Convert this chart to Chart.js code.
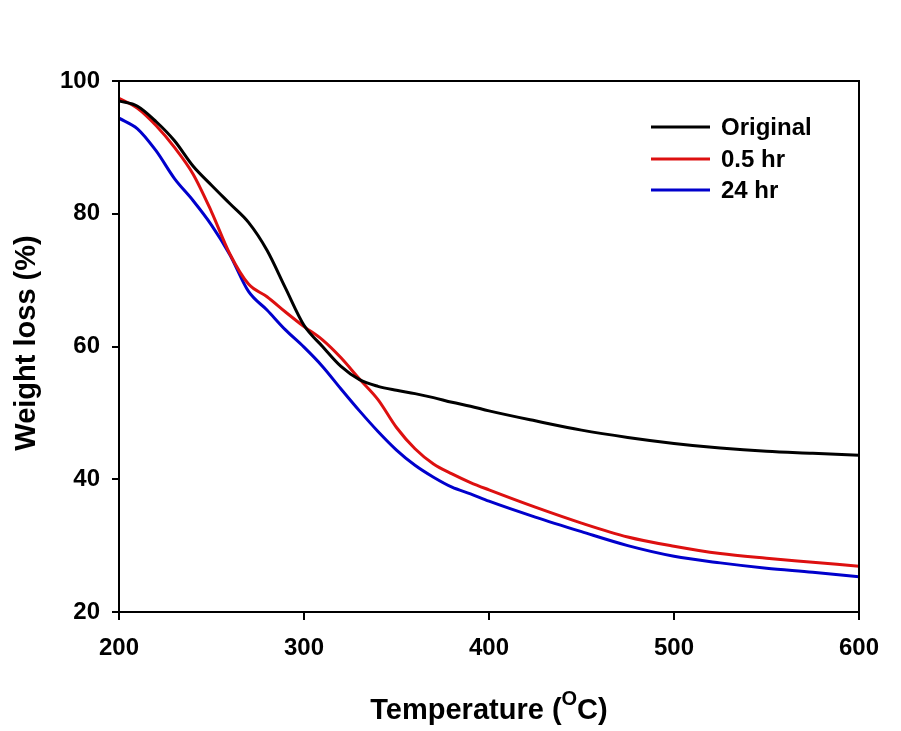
<!DOCTYPE html>
<html>
<head>
<meta charset="utf-8">
<script src="https://cdn.jsdelivr.net/npm/chart.js@4.4.1/dist/chart.umd.min.js"></script>
<style>
  html, body { margin: 0; padding: 0; background: #fff; }
  #wrap { width: 901px; height: 731px; position: relative; }
</style>
</head>
<body>
<div id="wrap"><canvas id="tgaChart" width="901" height="731"></canvas></div>
<script>
// temperatures (°C) where the curves were read
const temperatures = [200, 210, 220, 230, 240, 250, 260, 270, 280, 290, 300, 310, 320, 330, 340,
    350, 360, 370, 380, 390, 400, 425, 450, 475, 500, 525, 550, 575, 600];

const original = [97.0, 96.2, 93.9, 91.0, 87.2, 84.3, 81.5, 78.7, 74.5, 68.8, 63.2, 60.0, 57.0, 55.0, 54.0,
    53.4, 52.9, 52.3, 51.6, 51.0, 50.3, 48.8, 47.4, 46.3, 45.4, 44.7, 44.2, 43.9, 43.6];

const halfHour = [97.4, 95.9, 93.3, 90.0, 86.0, 80.3, 73.9, 69.4, 67.5, 65.2, 63.0, 61.0, 58.3, 55.1, 52.0,
    47.8, 44.6, 42.3, 40.8, 39.5, 38.4, 35.8, 33.4, 31.3, 29.9, 28.8, 28.1, 27.5, 26.9];

const day = [94.4, 92.8, 89.5, 85.3, 82.0, 78.3, 73.8, 68.3, 65.5, 62.5, 59.9, 57.0, 53.6, 50.3, 47.2,
    44.4, 42.1, 40.3, 38.8, 37.8, 36.7, 34.3, 32.1, 30.0, 28.4, 27.4, 26.6, 26.0, 25.3];

const seriesLabels = ['Original', '0.5 hr', '24 hr'];
const seriesColors = ['#000000', '#dd1010', '#0000cc'];

const xTicks = [200, 300, 400, 500, 600];
const yTicks = [20, 40, 60, 80, 100];

const pts = vals => temperatures.map((t, i) => ({ x: t, y: vals[i] }));

const FAMILY = 'Arial, "Liberation Sans", sans-serif';

// cadre haut / droite + légende + titres
const decorPlugin = {
    id: 'decor',
    afterDraw(chart) {
        const ctx = chart.ctx;
        const a = chart.chartArea;
        ctx.save();
        ctx.strokeStyle = '#000';
        ctx.lineWidth = 2;
        ctx.strokeRect(a.left, a.top, a.right - a.left, a.bottom - a.top);

        // légende
        ctx.font = 'bold 24px ' + FAMILY;
        ctx.textBaseline = 'middle';
        ctx.textAlign = 'left';
        const rows = [127, 159, 190];
        chart.data.datasets.forEach((ds, i) => {
            ctx.strokeStyle = ds.borderColor;
            ctx.lineWidth = 3;
            ctx.beginPath();
            ctx.moveTo(651, rows[i]);
            ctx.lineTo(710, rows[i]);
            ctx.stroke();
            ctx.fillStyle = '#000';
            ctx.fillText(ds.label, 721, rows[i] + 1);
        });

        // titre axe Y
        ctx.font = 'bold 29px ' + FAMILY;
        ctx.textAlign = 'center';
        ctx.translate(27, 343);
        ctx.rotate(-Math.PI / 2);
        ctx.fillText('Weight loss (%)', 0, 0);
        ctx.setTransform(1, 0, 0, 1, 0, 0);

        // titre axe X avec exposant
        const main = 'bold 29px ' + FAMILY;
        const sup = 'bold 20px ' + FAMILY;
        const parts = [['Temperature (', main, 0], ['O', sup, -12], ['C)', main, 0]];
        let total = 0;
        parts.forEach(p => { ctx.font = p[1]; total += ctx.measureText(p[0]).width; });
        let x = (a.left + a.right) / 2 - total / 2;
        ctx.textAlign = 'left';
        parts.forEach(p => {
            ctx.font = p[1];
            ctx.fillText(p[0], x, 711 + p[2]);
            x += ctx.measureText(p[0]).width;
        });
        ctx.restore();
    }
};

const tickFont = { family: FAMILY, size: 24, weight: 'bold' };

new Chart(document.getElementById('tgaChart'), {
    type: 'line',
    data: {
        datasets: [original, halfHour, day].map((vals, i) => ({
            label: seriesLabels[i],
            data: pts(vals),
            borderColor: seriesColors[i],
            backgroundColor: seriesColors[i],
            borderWidth: 3,
            pointRadius: 0,
            cubicInterpolationMode: 'monotone',
            fill: false
        }))
    },
    options: {
        responsive: false,
        animation: false,
        layout: { padding: { left: 0, top: 81, right: 42, bottom: 0 } },
        plugins: { legend: { display: false }, tooltip: { enabled: false } },
        scales: {
            x: {
                type: 'linear',
                min: 200, max: 600,
                afterFit: s => { s.height = 119; },
                afterBuildTicks: s => { s.ticks = xTicks.map(v => ({ value: v })); },
                border: { display: true, color: '#000', width: 2 },
                grid: { drawOnChartArea: false, drawTicks: true, tickLength: 8, color: '#000', lineWidth: 2 },
                ticks: { color: '#000', font: tickFont, padding: 14, maxRotation: 0 }
            },
            y: {
                min: 20, max: 100,
                afterFit: s => { s.width = 119; },
                afterBuildTicks: s => { s.ticks = yTicks.map(v => ({ value: v })); },
                border: { display: true, color: '#000', width: 2 },
                grid: { drawOnChartArea: false, drawTicks: true, tickLength: 7, color: '#000', lineWidth: 2 },
                ticks: { color: '#000', font: tickFont, padding: 12 }
            }
        }
    },
    plugins: [decorPlugin]
});
</script>
</body>
</html>
